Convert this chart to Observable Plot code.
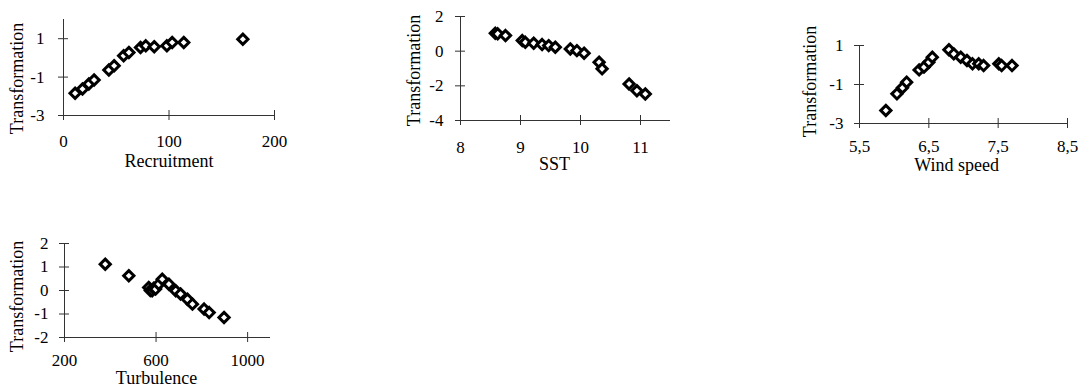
<!DOCTYPE html>
<html>
<head>
<meta charset="utf-8">
<script src="https://cdn.jsdelivr.net/npm/d3@7"></script>
<script src="https://cdn.jsdelivr.net/npm/@observablehq/plot@0.6"></script>
<style>
  html, body { margin: 0; padding: 0; background: #fff; }
  #chart { position: relative; width: 1083px; height: 389px; background: #fff; }
  #chart svg { position: absolute; }
</style>
</head>
<body>
<div id="chart"></div>
<script>
// ---- Data ----
const recruitment  = [11, 18, 24, 29, 43, 48, 57, 62, 73, 78, 86, 98, 103, 114, 170];
const recruitmentT = [-1.84, -1.62, -1.36, -1.15, -0.63, -0.41, 0.11, 0.28, 0.54, 0.63, 0.58, 0.63, 0.8, 0.8, 0.97];

const sst  = [8.58, 8.62, 8.75, 9.03, 9.08, 9.22, 9.36, 9.47, 9.58, 9.83, 9.94, 10.06, 10.31, 10.36, 10.81, 10.94, 11.08];
const sstT = [1.03, 1.0, 0.9, 0.61, 0.51, 0.46, 0.38, 0.32, 0.23, 0.13, 0.03, -0.12, -0.64, -1.02, -1.89, -2.28, -2.47];

const windSpeed  = [5.88, 6.04, 6.12, 6.18, 6.36, 6.43, 6.5, 6.55, 6.79, 6.86, 6.96, 7.05, 7.13, 7.22, 7.29, 7.51, 7.55, 7.7];
const windSpeedT = [-2.33, -1.48, -1.17, -0.88, -0.25, -0.11, 0.14, 0.4, 0.78, 0.57, 0.4, 0.23, 0.06, 0.06, -0.03, 0.06, -0.03, -0.03];

const turbulence  = [378, 481, 568, 575, 583, 590, 598, 612, 627, 656, 686, 707, 737, 759, 810, 832, 897];
const turbulenceT = [1.12, 0.63, 0.13, 0.0, -0.01, 0.1, 0.06, 0.27, 0.48, 0.27, -0.01, -0.15, -0.37, -0.58, -0.79, -0.94, -1.15];

// Tick values
const recruitmentTicksX = [0, 100, 200];
const recruitmentTicksY = [-3, -1, 1];
const sstTicksX = [8, 9, 10, 11];
const sstTicksY = [-4, -2, 0, 2];
const windTicksX = [5.5, 6.5, 7.5, 8.5];
const windTicksY = [-3, -1, 1];
const turbTicksX = [200, 600, 1000];
const turbTicksY = [-2, -1, 0, 1, 2];

const yLabel = "Transformation";

// ---- Drawing ----
const FONT = "Liberation Serif, Times New Roman, serif";
const AXIS = "#333";

function panel(cfg) {
  const {xs, ys, xDomain, yDomain, xTicks, yTicks, xFormat, xLabel,
         pos, margins, xPad, yPad, yLab, xLab} = cfg;
  const svg = Plot.plot({
    width: pos.w, height: pos.h,
    marginLeft: margins[0], marginRight: margins[1], marginTop: margins[2], marginBottom: margins[3],
    x: {domain: xDomain},
    y: {domain: yDomain},
    style: {fontFamily: FONT, fontSize: "17px", color: "black", background: "white", overflow: "visible"},
    marks: [
      Plot.ruleY([yDomain[0]], {stroke: AXIS, strokeWidth: 1}),
      Plot.ruleX([xDomain[0]], {stroke: AXIS, strokeWidth: 1}),
      Plot.ruleX(xTicks, {x: d => d, y1: () => yDomain[0], y2: () => yDomain[0], insetTop: -5, insetBottom: -5, stroke: AXIS}),
      Plot.ruleY(yTicks, {y: d => d, x1: () => xDomain[0], x2: () => xDomain[0], insetLeft: -5, insetRight: -5, stroke: AXIS}),
      Plot.axisX({ticks: xTicks, tickSize: 0, tickPadding: xPad, tickFormat: xFormat, label: null, fontSize: 17, fill: "black"}),
      Plot.axisY({ticks: yTicks, tickSize: 0, tickPadding: yPad, tickFormat: d => String(d), label: null, fontSize: 17, fill: "black"}),
      Plot.dot(xs, {x: xs, y: ys, symbol: "diamond2", r: 4.6, stroke: "black", strokeWidth: 3, fill: "white"}),
      Plot.text([yLabel], {text: d => d, frameAnchor: "left", textAnchor: "middle", lineAnchor: "middle", rotate: -90, dx: yLab[0], dy: yLab[1], fontSize: 18, fill: "black"}),
      Plot.text([xLabel], {text: d => d, frameAnchor: "bottom", textAnchor: "middle", lineAnchor: "middle", dx: xLab[0], dy: xLab[1], fontSize: 18, fill: "black"})
    ]
  });
  svg.style.left = pos.x + "px";
  svg.style.top = pos.y + "px";
  document.getElementById("chart").appendChild(svg);
}

panel({
  xs: recruitment, ys: recruitmentT, xDomain: [0, 200], yDomain: [-3, 2],
  xTicks: recruitmentTicksX, yTicks: recruitmentTicksY, xFormat: d => String(d), xLabel: "Recruitment",
  pos: {x: 0, y: 0, w: 300, h: 180}, margins: [63, 26, 19, 65], xPad: 19, yPad: 19,
  yLab: [-46, 11], xLab: [0, 46]
});

panel({
  xs: sst, ys: sstT, xDomain: [8, 11.5], yDomain: [-4, 2],
  xTicks: sstTicksX, yTicks: sstTicksY, xFormat: d => String(d), xLabel: "SST",
  pos: {x: 390, y: 0, w: 320, h: 180}, margins: [70, 40, 16, 60], xPad: 20, yPad: 17,
  yLab: [-46, 2], xLab: [-11, 44]
});

panel({
  xs: windSpeed, ys: windSpeedT, xDomain: [5.5, 8.5], yDomain: [-3, 1],
  xTicks: windTicksX, yTicks: windTicksY, xFormat: d => String(d).replace(".", ","), xLabel: "Wind speed",
  pos: {x: 760, y: 0, w: 323, h: 180}, margins: [99, 16, 45, 57], xPad: 16, yPad: 16,
  yLab: [-49, -3], xLab: [-7, 42]
});

panel({
  xs: turbulence, ys: turbulenceT, xDomain: [200, 1100], yDomain: [-2, 2],
  xTicks: turbTicksX, yTicks: turbTicksY, xFormat: d => String(d), xLabel: "Turbulence",
  pos: {x: 0, y: 220, w: 300, h: 169}, margins: [64, 30, 23, 52], xPad: 16, yPad: 16,
  yLab: [-47, 6], xLab: [-11, 41]
});
</script>
</body>
</html>
